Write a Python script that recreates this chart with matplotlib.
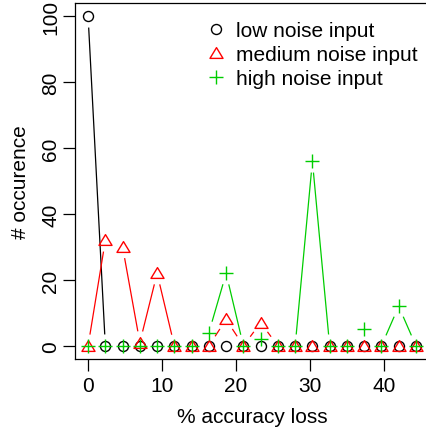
import numpy as np
import matplotlib.pyplot as plt
from matplotlib.lines import Line2D
from matplotlib.path import Path

plt.rcParams['font.family'] = ['Liberation Sans', 'DejaVu Sans']

# Dane
accuracy_loss = np.arange(20) * 7 / 3
low_noise = [100, 0, 0, 0, 0, 0, 0, 0, 0, 0, 0, 0, 0, 0, 0, 0, 0, 0, 0, 0]
medium_noise = [0, 32, 30, 1, 22, 0, 0, 0, 8, 0, 7, 0, 0, 0, 0, 0, 0, 0, 0, 0]
high_noise = [0, 0, 0, 0, 0, 0, 0, 4, 22, 0, 2, 0, 0, 56, 0, 0, 5, 0, 12, 0]
labels = ['low noise input', 'medium noise input', 'high noise input']

W, H = 426, 431
fig = plt.figure(figsize=(W / 100, H / 100), dpi=100)
ax = fig.add_axes([75 / W, (H - 360) / H, (429 - 75) / W, (360 - 4) / H])
ax.set_xlim(-1.77, 46.1)
ax.set_ylim(-4, 104)

# trojkat jak pch=2 w R (zamkniety)
tri = Path([(-1, -0.75), (1, -0.75), (0, 0.9), (0, 0)],
           [Path.MOVETO, Path.LINETO, Path.LINETO, Path.CLOSEPOLY])


def plot_b(x, y, color, marker, ms, gap=12):
    # linie jak w R type="b" - przerwa wokol punktow
    pts = ax.transData.transform(np.column_stack([x, y]))
    inv = ax.transData.inverted()
    for p, q in zip(pts[:-1], pts[1:]):
        d = q - p
        L = np.hypot(*d)
        if L <= 2 * gap:
            continue
        u = d / L
        a, b = inv.transform([p + u * gap, q - u * gap])
        ax.plot([a[0], b[0]], [a[1], b[1]], color=color, lw=0.9)
    ax.plot(x, y, ls='none', marker=marker, ms=ms, mfc='none', mec=color,
            mew=1.0, color=color)


plot_b(accuracy_loss, low_noise, 'black', 'o', 7.2)
plot_b(accuracy_loss, medium_noise, 'red', tri, 9.4)
plot_b(accuracy_loss, high_noise, '#00CD00', '+', 10)

ax.set_xticks([0, 10, 20, 30, 40])
ax.set_yticks([0, 20, 40, 60, 80, 100])
ax.tick_params(direction='out', length=8.6, width=0.9, labelsize=15)
ax.tick_params(axis='x', pad=4)
ax.tick_params(axis='y', pad=2)
for t in ax.get_yticklabels():
    t.set_rotation(90)
    t.set_va('center')
for s in ax.spines.values():
    s.set_linewidth(0.9)
ax.set_xlabel('% accuracy loss', fontsize=15, labelpad=8)
ax.set_ylabel('# occurence', fontsize=15, labelpad=8)

handles = [
    Line2D([], [], ls='none', marker='o', ms=7.2, mfc='none', mec='black', mew=1.0),
    Line2D([], [], ls='none', marker=tri, ms=9.4, mfc='none', mec='red', mew=1.0),
    Line2D([], [], ls='none', marker='+', ms=10, mec='#00CD00', mew=1.0),
]
ax.legend(handles, labels, frameon=False, loc='upper left',
          bbox_to_anchor=(206 / W, 1 - 22 / H), bbox_transform=fig.transFigure,
          handlelength=1.0, handletextpad=0.45, labelspacing=0.25, borderpad=0,
          borderaxespad=0, fontsize=15)

fig.savefig('out.png', dpi=100)
